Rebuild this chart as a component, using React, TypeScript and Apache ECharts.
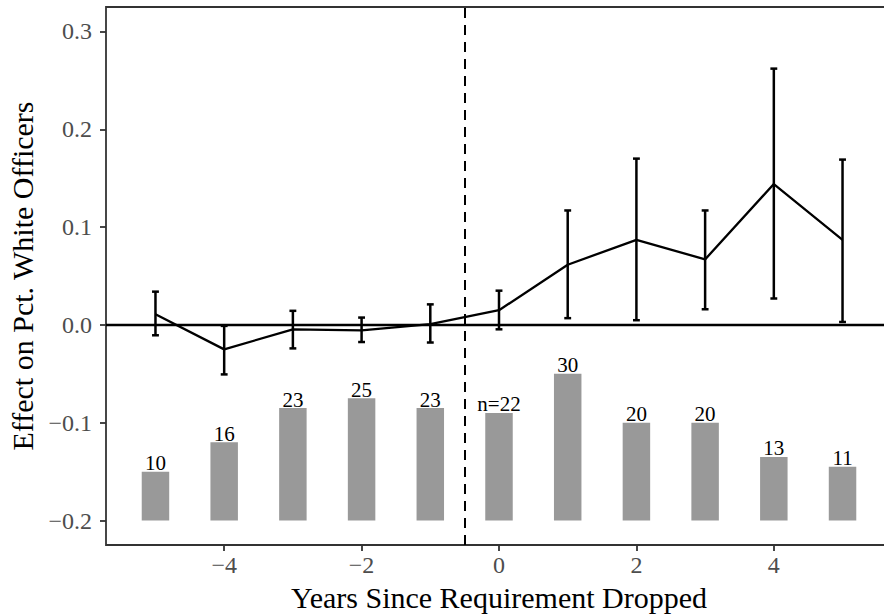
import React, { useEffect, useRef } from "react";
import * as echarts from "echarts";

const years = [-5, -4, -3, -2, -1, 0, 1, 2, 3, 4, 5];
const estimates = [0.011, -0.025, -0.0045, -0.0055, 0.0007, 0.015, 0.0615, 0.087, 0.067, 0.144, 0.087];
const ciLower = [-0.0106, -0.0506, -0.024, -0.0175, -0.018, -0.0045, 0.0069, 0.0048, 0.016, 0.027, 0.003];
const ciUpper = [0.034, -0.001, 0.0144, 0.0075, 0.021, 0.035, 0.117, 0.17, 0.117, 0.262, 0.169];
const counts = [10, 16, 23, 25, 23, 22, 30, 20, 20, 13, 11];
const barLabels = ["10", "16", "23", "25", "23", "n=22", "30", "20", "20", "13", "11"];
const xTicks = [-4, -2, 0, 2, 4];
const yTicks = [-0.2, -0.1, 0, 0.1, 0.2, 0.3];
const barBase = -0.2;
const barUnit = 0.005;
const cutoff = -0.5;

const FONT = '"Liberation Serif", "DejaVu Serif", serif';

const minus = (s: string) => s.replace("-", "\u2212");

export default function App() {
  const ref = useRef<HTMLDivElement>(null);
  useEffect(() => {
    if (!ref.current) return;
    const chart = echarts.init(ref.current, undefined, { renderer: "svg" });
    const option: any = {
      animation: false,
      backgroundColor: "#ffffff",
      grid: {
        left: 106,
        top: 7,
        width: 786,
        height: 538,
        containLabel: false,
        outerBoundsMode: "none",
        show: true,
        borderColor: "#333333",
        borderWidth: 1.8,
        backgroundColor: "transparent",
      },
      xAxis: {
        type: "value",
        min: -5.72,
        max: 5.72,
        axisLine: { show: false, onZero: false },
        splitLine: { show: false },
        axisTick: { show: true, length: 6, customValues: xTicks, lineStyle: { color: "#333333", width: 1.8 } },
        axisLabel: {
          customValues: xTicks,
          margin: 8,
          color: "#4d4d4d",
          fontFamily: FONT,
          fontSize: 24,
          formatter: (v: number) => minus(String(v)),
        },
        name: "Years Since Requirement Dropped",
        nameLocation: "middle",
        nameGap: 37,
        nameTextStyle: { color: "#000000", fontFamily: FONT, fontSize: 30 },
      },
      yAxis: {
        type: "value",
        min: -0.225,
        max: 0.325,
        axisLine: { show: false, onZero: false },
        splitLine: { show: false },
        axisTick: { show: true, length: 6, customValues: yTicks, lineStyle: { color: "#333333", width: 1.8 } },
        axisLabel: {
          customValues: yTicks,
          margin: 14,
          color: "#4d4d4d",
          fontFamily: FONT,
          fontSize: 24,
          formatter: (v: number) => minus((Math.abs(v) < 1e-9 ? 0 : v).toFixed(1)),
        },
        name: "Effect on Pct. White Officers",
        nameLocation: "middle",
        nameRotate: 90,
        nameGap: 65,
        nameTextStyle: { color: "#000000", fontFamily: FONT, fontSize: 30 },
      },
      series: [
        {
          type: "custom",
          name: "counts",
          data: years.map((y, i) => [y, counts[i], i]),
          renderItem: (params: any, api: any) => {
            const x = api.value(0);
            const n = api.value(1);
            const idx = api.value(2);
            const bottom = api.coord([x, barBase]);
            const top = api.coord([x, barBase + n * barUnit]);
            const w = api.size([0.4, 0])[0];
            return {
              type: "group",
              children: [
                {
                  type: "rect",
                  shape: { x: top[0] - w / 2, y: top[1], width: w, height: bottom[1] - top[1] },
                  style: { fill: "#999999" },
                },
                {
                  type: "text",
                  x: top[0],
                  y: top[1] + 2,
                  style: {
                    text: barLabels[idx],
                    align: "center",
                    verticalAlign: "bottom",
                    font: `21px ${FONT}`,
                    fill: "#000000",
                  },
                },
              ],
            };
          },
          z: 1,
        },
        {
          type: "line",
          name: "estimate",
          data: years.map((y, i) => [y, estimates[i]]),
          symbol: "none",
          lineStyle: { color: "#000000", width: 2.3 },
          z: 3,
          markLine: {
            silent: true,
            symbol: "none",
            label: { show: false },
            data: [
              { yAxis: 0, lineStyle: { color: "#000000", width: 2.3, type: "solid" } },
              { xAxis: cutoff, lineStyle: { color: "#000000", width: 2, type: [10, 7] } },
            ],
          },
        },
        {
          type: "custom",
          name: "ci",
          data: years.map((y, i) => [y, ciLower[i], ciUpper[i]]),
          renderItem: (params: any, api: any) => {
            const x = api.value(0);
            const lo = api.coord([x, api.value(1)]);
            const hi = api.coord([x, api.value(2)]);
            const hw = api.size([0.1, 0])[0] / 2;
            const st = { stroke: "#000000", lineWidth: 2.5 };
            return {
              type: "group",
              children: [
                { type: "line", shape: { x1: lo[0], y1: lo[1], x2: hi[0], y2: hi[1] }, style: st },
                { type: "line", shape: { x1: lo[0] - hw, y1: lo[1], x2: lo[0] + hw, y2: lo[1] }, style: st },
                { type: "line", shape: { x1: hi[0] - hw, y1: hi[1], x2: hi[0] + hw, y2: hi[1] }, style: st },
              ],
            };
          },
          z: 4,
        },
      ],
    };
    chart.setOption(option);
    return () => chart.dispose();
  }, []);
  return <div ref={ref} style={{ width: 884, height: 616, position: "absolute", left: 0, top: 0 }} />;
}
